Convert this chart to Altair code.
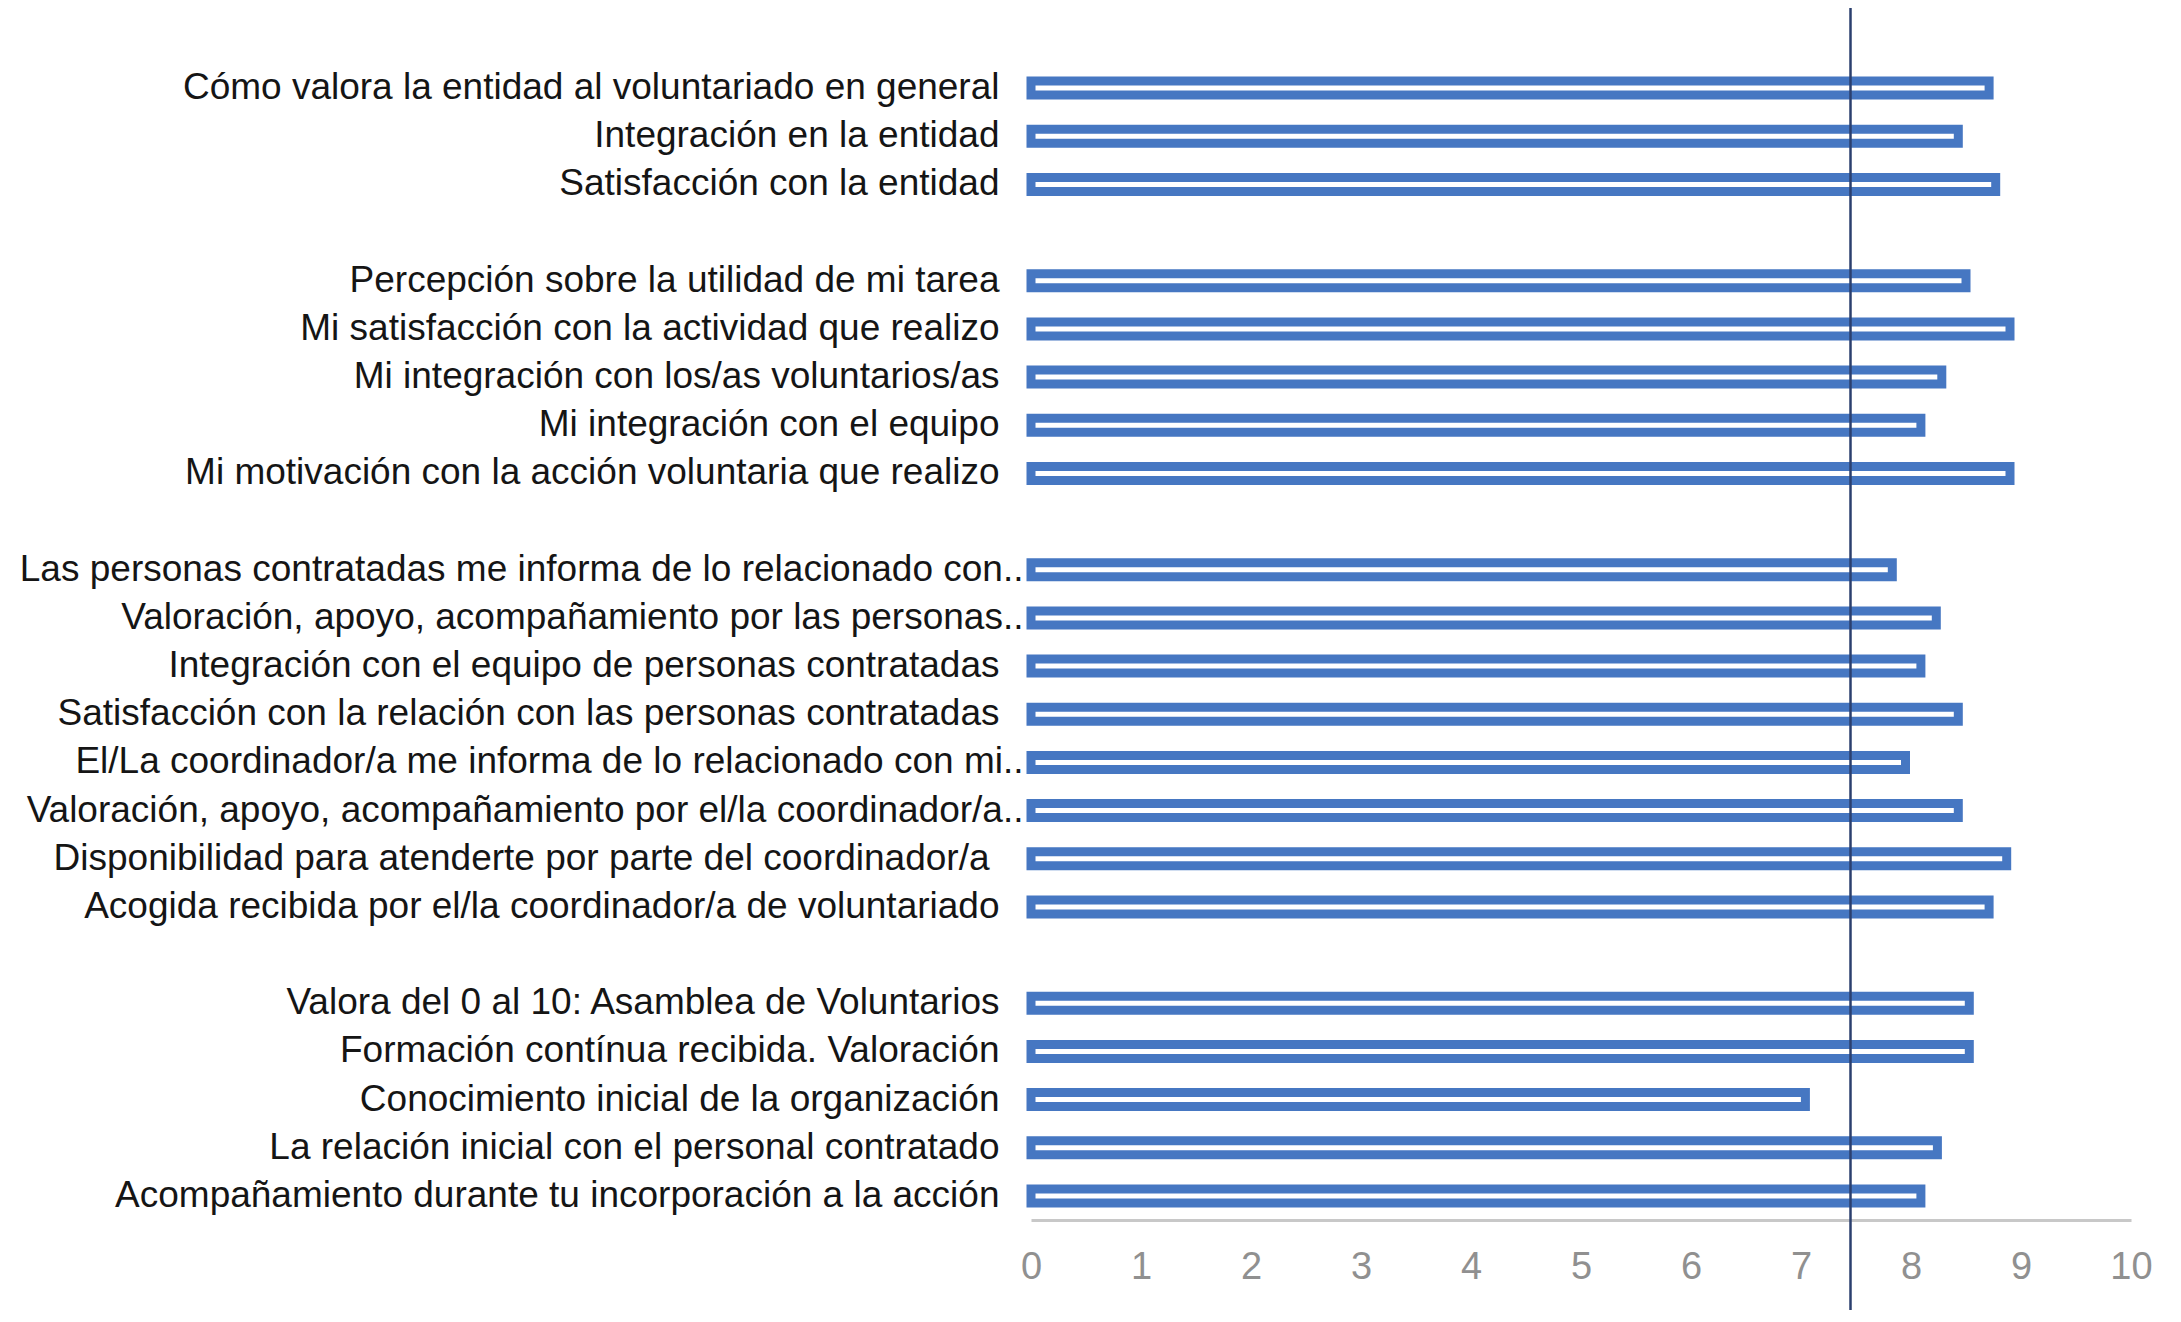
import altair as alt
import pandas as pd

categories = [
    "Cómo valora la entidad al voluntariado en general",
    "Integración en la entidad",
    "Satisfacción con la entidad",
    "gap1",
    "Percepción sobre la utilidad de mi tarea",
    "Mi satisfacción con la actividad que realizo",
    "Mi integración con los/as voluntarios/as",
    "Mi integración con el equipo",
    "Mi motivación con la acción voluntaria que realizo",
    "gap2",
    "Las personas contratadas me informa de lo relacionado con..",
    "Valoración, apoyo, acompañamiento por las personas..",
    "Integración con el equipo de personas contratadas",
    "Satisfacción con la relación con las personas contratadas",
    "El/La coordinador/a me informa de lo relacionado con mi..",
    "Valoración, apoyo, acompañamiento por el/la coordinador/a..",
    "Disponibilidad para atenderte por parte del coordinador/a",
    "Acogida recibida por el/la coordinador/a de voluntariado",
    "gap3",
    "Valora del 0 al 10: Asamblea de Voluntarios",
    "Formación contínua recibida. Valoración",
    "Conocimiento inicial de la organización",
    "La relación inicial con el personal contratado",
    "Acompañamiento durante tu incorporación a la acción",
]

values = [
    8.71, 8.43, 8.77, None,
    8.50, 8.90, 8.28, 8.09, 8.90, None,
    7.83, 8.23, 8.09, 8.43, 7.95, 8.43, 8.87, 8.71, None,
    8.53, 8.53, 7.04, 8.24, 8.09,
]

reference_value = [7.45]
x_ticks = list(range(0, 11))

rows = [(c, v) for c, v in zip(categories, values) if v is not None]
df = pd.DataFrame(rows, columns=["item", "score"])
ref_df = pd.DataFrame({"ref": reference_value})

blue = "#4677c2"

y_enc = alt.Y(
    "item:N",
    sort=None,
    scale=alt.Scale(domain=categories, paddingInner=0, paddingOuter=0),
    axis=alt.Axis(
        title=None,
        ticks=False,
        domain=False,
        labelExpr="indexof(datum.value, 'gap') == 0 ? '' : datum.value",
        labelFont="Liberation Sans",
        labelFontSize=37,
        labelColor="#151515",
        labelPadding={
            "condition": [
                {"test": "indexof(datum.value, '..') > 0", "value": 8},
                {"test": "indexof(datum.value, 'Disponibilidad') == 0", "value": 42},
            ],
            "value": 32,
        },
        labelLimit=1200,
    ),
)

bars = alt.Chart(df).mark_bar(
    size=14, fill="white", stroke=blue, strokeWidth=9
).encode(
    x=alt.X(
        "score:Q",
        scale=alt.Scale(domain=[0, 10], nice=False),
        axis=alt.Axis(
            title=None,
            values=x_ticks,
            format="d",
            grid=False,
            ticks=False,
            labelFlush=False,
            domainColor="#c8c8c8",
            domainWidth=3,
            labelFont="Liberation Sans",
            labelFontSize=38,
            labelColor="#909090",
            labelPadding=28,
        ),
    ),
    y=y_enc,
)

rule = alt.Chart(ref_df).mark_rule(color="#2b3f6e", strokeWidth=2.5).encode(
    x="ref:Q",
    y=alt.value(-58),
    y2=alt.value(1260),
)

chart = alt.layer(bars, rule).properties(
    width=1100,
    height=1156,
    autosize=alt.AutoSizeParams(type="none"),
    padding={"left": 1023, "top": 56, "right": 40, "bottom": 90},
).configure_view(stroke=None)

chart.save("out.html", embed_options={"renderer": "svg", "actions": False})
